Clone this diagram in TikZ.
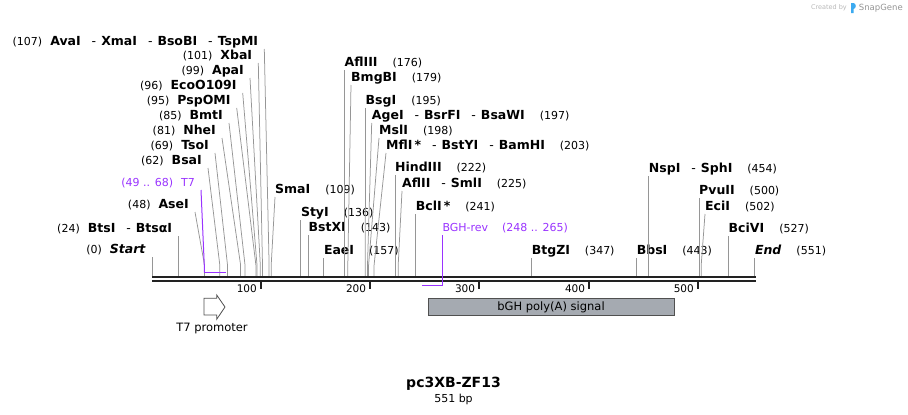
\documentclass[tikz,border=0pt]{standalone}
\usepackage{fontspec}
\setmainfont{DejaVu Sans}
\usetikzlibrary{positioning}

\definecolor{cutgray}{RGB}{150,150,150}
\definecolor{primer}{RGB}{153,51,255}
\definecolor{bargray}{RGB}{34,34,34}
\definecolor{featfill}{RGB}{165,170,177}
\definecolor{featline}{RGB}{80,80,80}
\definecolor{sgblue}{RGB}{60,170,240}

\newcommand{\enzsep}{\hspace{11pt}{\mdseries-}\hspace{5pt}}
\newcommand{\sitenum}[1]{{\fontsize{11}{13}\selectfont\mdseries(#1)}}

\tikzset{
  site/.style={font=\fontsize{12.5}{14}\selectfont\bfseries, text height=9pt, text depth=2.5pt, inner ysep=.5pt},
  sitel/.style={site, anchor=south east, inner xsep=6pt},
  siter/.style={site, anchor=south west, inner xsep=0pt},
  cut/.style={cutgray, line width=.75pt},
  oligo/.style={primer, line width=1pt},
  oligotxt/.style={text=primer, font=\fontsize{11}{13}\selectfont},
  ticklab/.style={anchor=east, inner sep=0pt, font=\fontsize{10.5}{12}\selectfont},
}

\begin{document}
\begin{tikzpicture}[x=1pt,y=-1pt]
\useasboundingbox (0,0) rectangle (908,415);

% cut sites on the strand
\coordinate (s0) at (152,276);
\coordinate (s24) at (178.3,276);
\coordinate (s48) at (204.5,276);
\coordinate (s62) at (219.8,276);
\coordinate (s69) at (227.5,276);
\coordinate (s81) at (240.6,276);
\coordinate (s85) at (245,276);
\coordinate (s95) at (255.9,276);
\coordinate (s96) at (257,276);
\coordinate (s99) at (260.3,276);
\coordinate (s101) at (262.5,276);
\coordinate (s107) at (269.1,276);
\coordinate (s109) at (271.2,276);
\coordinate (s136) at (300.8,276);
\coordinate (s143) at (308.4,276);
\coordinate (s157) at (323.8,276);
\coordinate (s176) at (344.5,276);
\coordinate (s179) at (347.8,276);
\coordinate (s195) at (365.3,276);
\coordinate (s197) at (367.5,276);
\coordinate (s198) at (368.6,276);
\coordinate (s203) at (374.1,276);
\coordinate (s222) at (394.9,276);
\coordinate (s225) at (398.2,276);
\coordinate (s241) at (415.7,276);
\coordinate (s347) at (531.6,276);
\coordinate (s443) at (636.6,276);
\coordinate (s454) at (648.7,276);
\coordinate (s500) at (699,276);
\coordinate (s502) at (701.2,276);
\coordinate (s527) at (728.5,276);
\coordinate (s551) at (754.8,276);

% enzymes, left side
\node[sitel] (n107) at (264.3,49) {\sitenum{107}\hspace{8pt}AvaI\enzsep XmaI\enzsep BsoBI\enzsep TspMI};
\node[sitel] (n101) at (258.3,63) {\sitenum{101}\hspace{8pt}XbaI};
\node[sitel] (n99) at (250,78) {\sitenum{99}\hspace{8pt}ApaI};
\node[sitel] (n96) at (242.7,93) {\sitenum{96}\hspace{8pt}EcoO109I};
\node[sitel] (n95) at (236.7,108) {\sitenum{95}\hspace{8pt}PspOMI};
\node[sitel] (n85) at (229,123) {\sitenum{85}\hspace{8pt}BmtI};
\node[sitel] (n81) at (222,138) {\sitenum{81}\hspace{8pt}NheI};
\node[sitel] (n69) at (215,153) {\sitenum{69}\hspace{8pt}TsoI};
\node[sitel] (n62) at (208,168) {\sitenum{62}\hspace{8pt}BsaI};
\node[sitel] (n48) at (195,212) {\sitenum{48}\hspace{8pt}AseI};
\node[sitel] (n24) at (178.3,236) {\sitenum{24}\hspace{8pt}BtsI\enzsep BtsαI};
\node[sitel] (start) at (152,257) {\sitenum{0}\hspace{8pt}\textit{Start}};

% enzymes, right side
\node[siter] (n109) at (275,197) {SmaI\hspace{15pt}\sitenum{109}};
\node[siter] (n136) at (300.8,220) {StyI\hspace{15pt}\sitenum{136}};
\node[siter] (n143) at (308.4,235) {BstXI\hspace{15pt}\sitenum{143}};
\node[siter] (n157) at (323.8,258) {EaeI\hspace{15pt}\sitenum{157}};
\node[siter] (n176) at (344.5,70) {AflIII\hspace{15pt}\sitenum{176}};
\node[siter] (n179) at (351,85) {BmgBI\hspace{15pt}\sitenum{179}};
\node[siter] (n195) at (365.5,108) {BsgI\hspace{15pt}\sitenum{195}};
\node[siter] (n197) at (371.7,123) {AgeI\enzsep BsrFI\enzsep BsaWI\hspace{15pt}\sitenum{197}};
\node[siter] (n198) at (379,138) {MslI\hspace{15pt}\sitenum{198}};
\node[siter] (n203) at (386,153) {MflI\,*\enzsep BstYI\enzsep BamHI\hspace{15pt}\sitenum{203}};
\node[siter] (n222) at (394.9,175) {HindIII\hspace{15pt}\sitenum{222}};
\node[siter] (n225) at (402,191) {AflII\enzsep SmlI\hspace{15pt}\sitenum{225}};
\node[siter] (n241) at (415.7,214) {BclI\,*\hspace{15pt}\sitenum{241}};
\node[siter] (n347) at (531.6,258) {BtgZI\hspace{15pt}\sitenum{347}};
\node[siter] (n443) at (636.6,258) {BbsI\hspace{15pt}\sitenum{443}};
\node[siter] (n454) at (648.7,176) {NspI\enzsep SphI\hspace{15pt}\sitenum{454}};
\node[siter] (n500) at (699,198) {PvuII\hspace{15pt}\sitenum{500}};
\node[siter] (n502) at (705,214) {EciI\hspace{15pt}\sitenum{502}};
\node[siter] (n527) at (728.5,236) {BciVI\hspace{15pt}\sitenum{527}};
\node[siter] (end) at (754.8,258) {\textit{End}\hspace{15pt}\sitenum{551}};

% leader lines
\draw[cut] (n107.south east) -- ([yshift=11pt]s107) -- (s107);
\draw[cut] (n101.south east) -- ([yshift=11pt]s101) -- (s101);
\draw[cut] (n99.south east) -- ([yshift=11pt]s99) -- (s99);
\draw[cut] (n96.south east) -- ([yshift=11pt]s96) -- (s96);
\draw[cut] (n95.south east) -- ([yshift=11pt]s95) -- (s95);
\draw[cut] (n85.south east) -- ([yshift=11pt]s85) -- (s85);
\draw[cut] (n81.south east) -- ([yshift=11pt]s81) -- (s81);
\draw[cut] (n69.south east) -- ([yshift=11pt]s69) -- (s69);
\draw[cut] (n62.south east) -- ([yshift=11pt]s62) -- (s62);
\draw[cut] (n48.south east) -- ([yshift=11pt]s48) -- (s48);
\draw[cut] (n24.south east) -- (s24);
\draw[cut] (start.south east) -- (s0);
\draw[cut] (n109.south west) -- ([yshift=11pt]s109) -- (s109);
\draw[cut] (n136.south west) -- (s136);
\draw[cut] (n143.south west) -- (s143);
\draw[cut] (n157.south west) -- (s157);
\draw[cut] (n176.south west) -- (s176);
\draw[cut] (n179.south west) -- ([yshift=11pt]s179) -- (s179);
\draw[cut] (n195.south west) -- ([yshift=11pt]s195) -- (s195);
\draw[cut] (n197.south west) -- ([yshift=11pt]s197) -- (s197);
\draw[cut] (n198.south west) -- ([yshift=11pt]s198) -- (s198);
\draw[cut] (n203.south west) -- ([yshift=11pt]s203) -- (s203);
\draw[cut] (n222.south west) -- (s222);
\draw[cut] (n225.south west) -- ([yshift=11pt]s225) -- (s225);
\draw[cut] (n241.south west) -- (s241);
\draw[cut] (n347.south west) -- (s347);
\draw[cut] (n443.south west) -- (s443);
\draw[cut] (n454.south west) -- (s454);
\draw[cut] (n500.south west) -- (s500);
\draw[cut] (n502.south west) -- ([yshift=11pt]s502) -- (s502);
\draw[cut] (n527.south west) -- (s527);
\draw[cut] (end.south west) -- (s551);

% sequence
\draw[bargray, line width=2.3pt] (152,277.3) -- (755.5,277.3);
\draw[bargray, line width=2pt] (152,281.3) -- (755.5,281.3);

% ruler
\draw[bargray, line width=1.6pt] (260.7,282) -- (260.7,289);
\draw[bargray, line width=1.6pt] (370,282) -- (370,289);
\draw[bargray, line width=1.6pt] (479,282) -- (479,289);
\draw[bargray, line width=1.6pt] (589,282) -- (589,289);
\draw[bargray, line width=1.6pt] (697.7,282) -- (697.7,289);
\node[ticklab] (t100) at (257,289) {100};
\node[ticklab] (t200) at (366.3,289) {200};
\node[ticklab] (t300) at (475.3,289) {300};
\node[ticklab] (t400) at (585.3,289) {400};
\node[ticklab] (t500) at (694,289) {500};

% primers
\node[sitel, oligotxt] (t7) at (201,190) {(49 .. 68)\hspace{8pt}T7};
\coordinate (t7a) at (204.3,272.7);
\coordinate (t7b) at (226,272.7);
\draw[oligo] (t7.south east) -- ([yshift=7pt]t7a) -- (t7a);
\draw[primer, line width=1.5pt] (t7a) -- (t7b);
\node[siter, oligotxt] (bghrev) at (442.3,235) {BGH-rev\hspace{14pt}(248 .. 265)};
\coordinate (bgha) at (442.3,285.5);
\coordinate (bghb) at (422,285.5);
\draw[oligo] (bghrev.south west) -- (bgha);
\draw[primer, line width=1.5pt] (bgha) -- (bghb);

% features
\draw[featline, line width=.8pt, fill=white] (204,298.3) -- (216.7,298.3) -- (216.7,295) -- (225,307) -- (216.7,319.3) -- (216.7,315) -- (204,315) -- cycle;
\node[font=\fontsize{11.5}{13}\selectfont] (t7prom) at (212,329) {T7 promoter};
\node[draw=featline, line width=.8pt, fill=featfill, minimum width=246pt, minimum height=16.5pt, inner sep=0pt, font=\fontsize{11.5}{13}\selectfont] (bghpa) at (551,307) {bGH poly(A) signal};

% title
\node[font=\fontsize{14}{16}\selectfont\bfseries] (title) at (453.5,384) {pc3XB-ZF13};
\node[font=\fontsize{11}{13}\selectfont] (len) at (453.5,399) {551 bp};

% credit
\node[anchor=east, inner sep=0pt, text=black!28, font=\fontsize{6.5}{7}\selectfont] (created) at (847,8) {Created by};
\fill[sgblue] (851,3) -- (853.5,3) .. controls (856.5,3) and (856.5,9) .. (853.5,9) -- (853.5,13) -- (851,13) -- cycle;
\node[anchor=west, inner sep=0pt, text=black!42, font=\fontsize{8.5}{9}\selectfont] (snapgene) at (858.7,8) {SnapGene};
\end{tikzpicture}
\end{document}
